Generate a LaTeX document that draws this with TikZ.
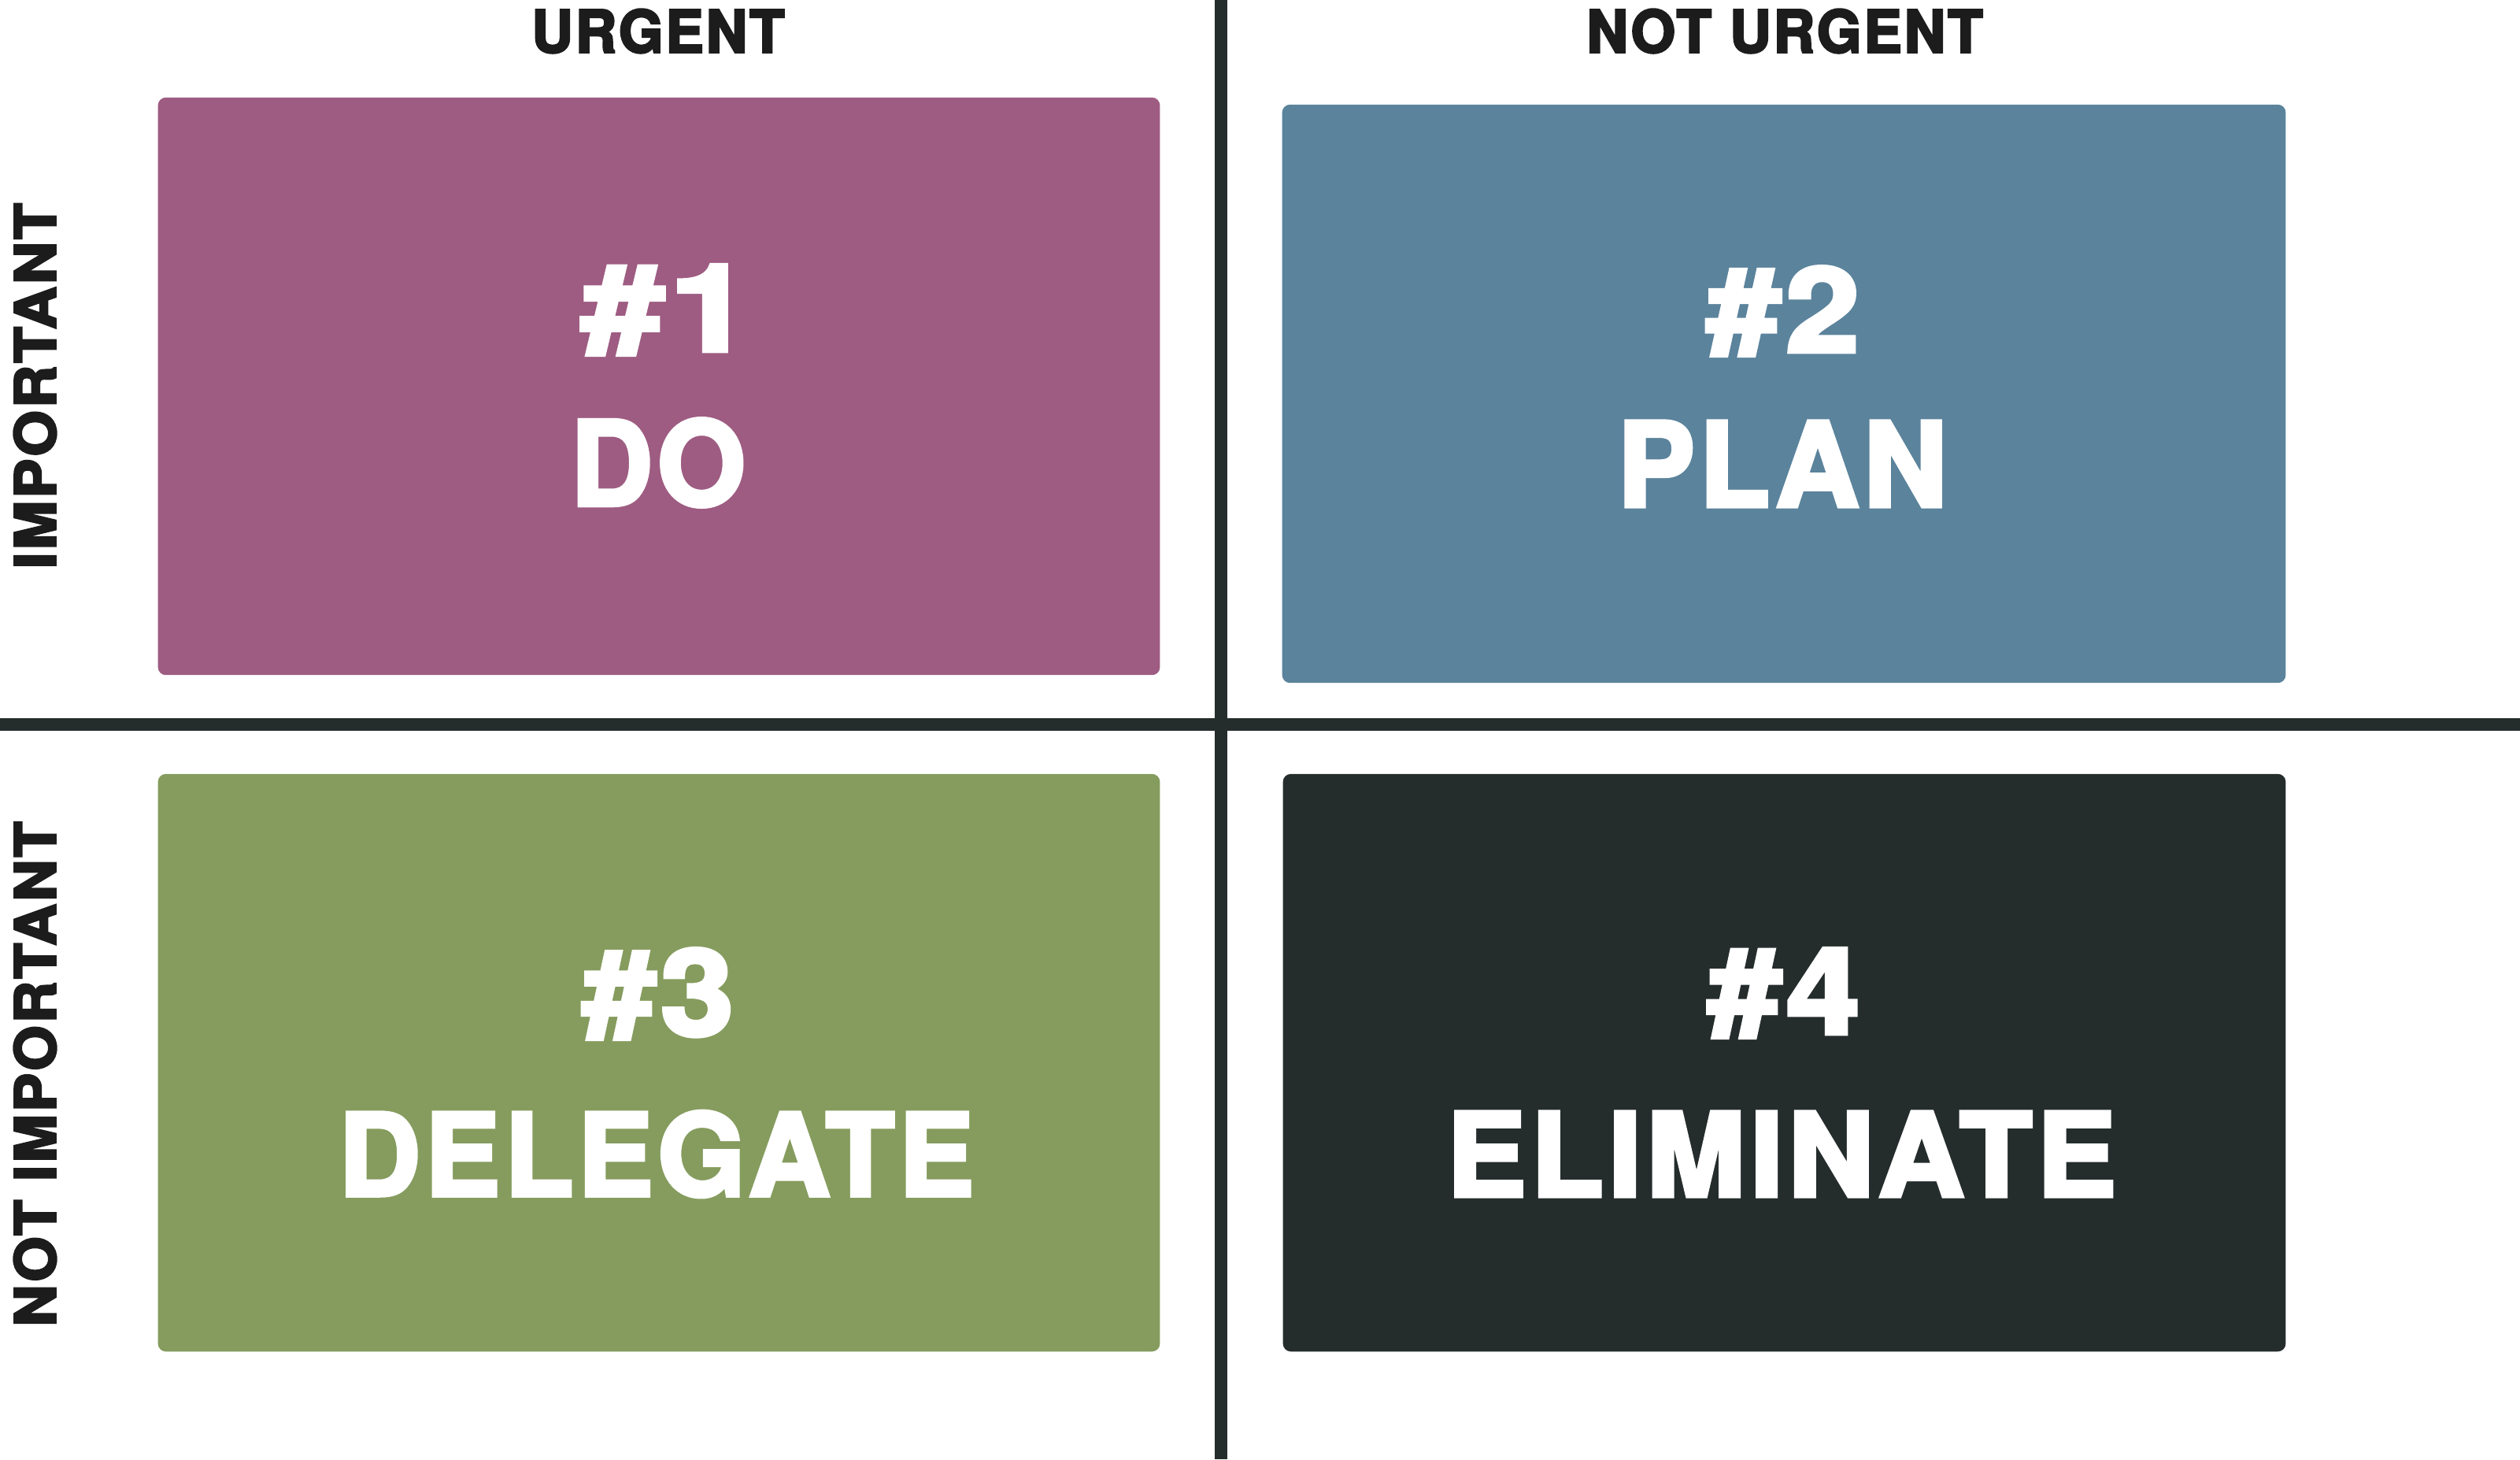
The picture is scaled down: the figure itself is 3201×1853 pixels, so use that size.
\documentclass[tikz,border=0pt]{standalone}
\usepackage{fontspec}
\newfontfamily\heavy{TeX Gyre Heros}[BoldFeatures={FakeBold=3.5, LetterSpace=4}]
\definecolor{doclr}{HTML}{9E5C82}
\definecolor{planclr}{HTML}{5B839C}
\definecolor{delclr}{HTML}{859C5E}
\definecolor{elimclr}{HTML}{252D2C}
\definecolor{axisclr}{HTML}{252D2C}
\definecolor{labelclr}{HTML}{1C1C1C}
% \fitcaps{width}{height}{text}: caps text stretched to an exact box
\newcommand{\fitcaps}[3]{\resizebox{#1}{#2}{\heavy\bfseries #3}}
\begin{document}
\begin{tikzpicture}[x=0.01cm, y=-0.01cm,
  quad/.style={rounded corners=0.1cm, inner sep=0pt, outer sep=0pt,
    minimum width=12.72cm, minimum height=7.33cm},
  boxtext/.style={inner sep=0pt, outer sep=0pt, text=white, anchor=center},
  axislabel/.style={inner sep=0pt, outer sep=0pt, text=labelclr, anchor=center},
  axisline/.style={draw=axisclr, line width=0.16cm}]
\useasboundingbox (0,0) rectangle (3201,1853);
\fill[white] (0,0) rectangle (3201,1853);

% dividing axes
\coordinate (vtop) at (1551,0);
\coordinate (vbot) at (1551,1853);
\coordinate (hleft) at (0,920);
\coordinate (hright) at (3201,920);
\draw[axisline] (vtop) -- (vbot);
\draw[axisline] (hleft) -- (hright);

% column and row headings
\node[axislabel] (urgent) at (836,39.5) {\fitcaps{3.21cm}{0.55cm}{URGENT}};
\node[axislabel] (noturgent) at (2267,39.5) {\fitcaps{5.03cm}{0.55cm}{NOT URGENT}};
\node[axislabel, rotate=90] (important) at (44.5,490) {\fitcaps{4.64cm}{0.53cm}{IMPORTANT}};
\node[axislabel, rotate=90] (notimportant) at (44.5,1364) {\fitcaps{6.41cm}{0.53cm}{NOT IMPORTANT}};

% quadrants
\node[quad, fill=doclr] (q1) at (837,490.5) {};
\node[quad, fill=planclr, minimum width=12.74cm, minimum height=7.34cm] (q2) at (2266,500) {};
\node[quad, fill=delclr] (q3) at (837,1349.5) {};
\node[quad, fill=elimclr, minimum width=12.73cm] (q4) at (2266.5,1349.5) {};

% quadrant texts
\node[boxtext] (n1) at (847,393.5) {\fitcaps{2.16cm}{1.09cm}{\#1}};
\node[boxtext] (w1) at (836,587.5) {\fitcaps{2.22cm}{1.10cm}{DO}};
\node[boxtext] (n2) at (2265,395) {\fitcaps{1.94cm}{1.08cm}{\#2}};
\node[boxtext] (w2) at (2264,589) {\fitcaps{4.18cm}{1.08cm}{PLAN}};
\node[boxtext] (n3) at (836,1262) {\fitcaps{1.92cm}{1.10cm}{\#3}};
\node[boxtext] (w3) at (834,1465.5) {\fitcaps{8.06cm}{1.07cm}{DELEGATE}};
\node[boxtext] (n4) at (2266,1261) {\fitcaps{1.93cm}{1.08cm}{\#4}};
\node[boxtext] (w4) at (2263,1465.5) {\fitcaps{8.50cm}{1.07cm}{ELIMINATE}};
\end{tikzpicture}
\end{document}
